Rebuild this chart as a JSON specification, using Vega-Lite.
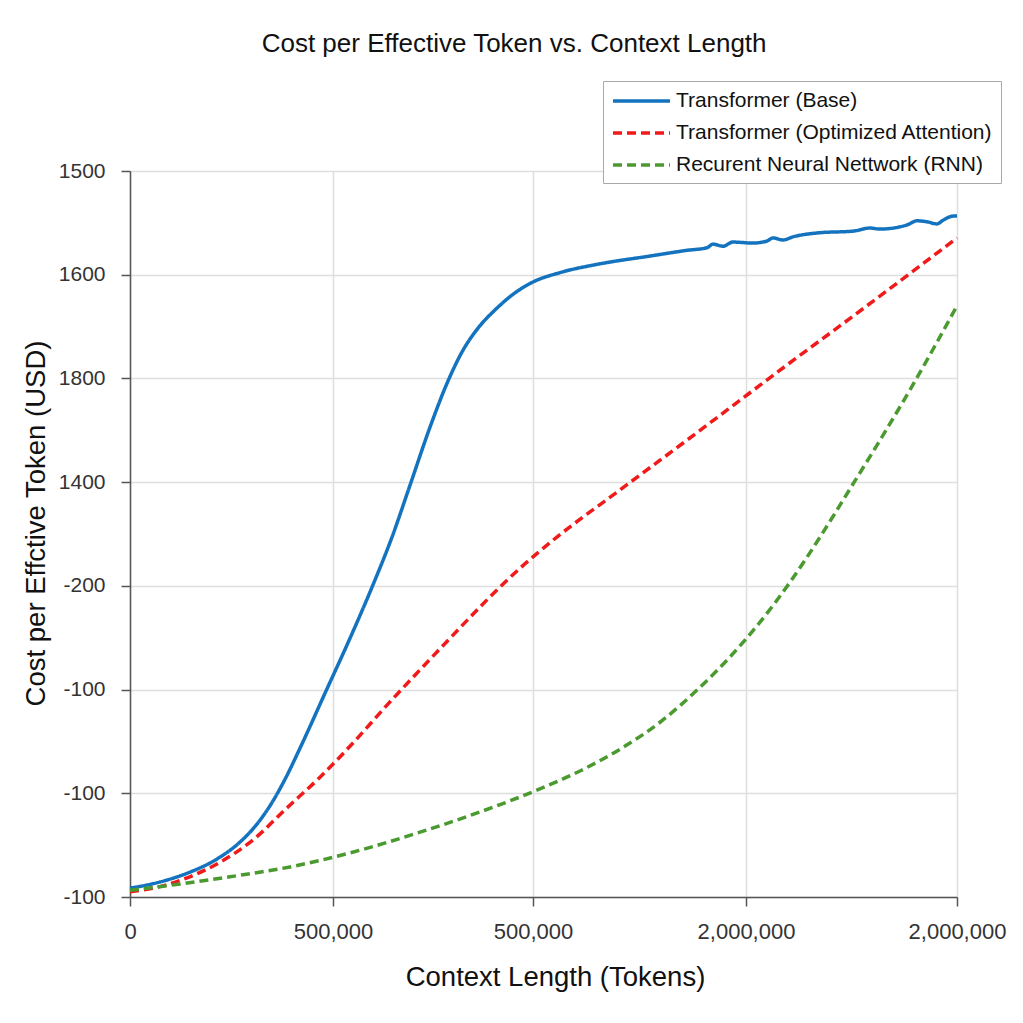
{
  "$schema": "https://vega.github.io/schema/vega-lite/v6.json",
  "width": 827,
  "height": 726,
  "autosize": {"type": "none"},
  "padding": {"left": 130, "top": 171, "right": 66, "bottom": 126},
  "background": "white",
  "config": {
    "font": "Liberation Sans",
    "view": {"stroke": null},
    "axis": {
      "domainColor": "#555555",
      "domainWidth": 1.5,
      "tickColor": "#555555",
      "tickWidth": 1.5,
      "tickSize": 9,
      "gridColor": "#dedede",
      "gridWidth": 1.5,
      "labelFont": "Liberation Sans",
      "labelColor": "#333333",
      "titleFont": "Liberation Sans",
      "titleFontSize": 27.5,
      "titleFontWeight": "normal",
      "titleColor": "#111111"
    }
  },
  "title": {
    "text": "Cost per Effective Token vs. Context Length",
    "font": "Liberation Sans",
    "fontSize": 26,
    "fontWeight": "normal",
    "color": "#111111",
    "anchor": "middle",
    "frame": "bounds",
    "offset": 24
  },
  "data": {
    "values": [
      {"series": "Transformer (Base)", "tokens": 0, "cost": 17},
      {"series": "Transformer (Base)", "tokens": 72550, "cost": 29},
      {"series": "Transformer (Base)", "tokens": 145100, "cost": 48},
      {"series": "Transformer (Base)", "tokens": 205560, "cost": 71},
      {"series": "Transformer (Base)", "tokens": 266020, "cost": 106},
      {"series": "Transformer (Base)", "tokens": 302300, "cost": 136},
      {"series": "Transformer (Base)", "tokens": 338580, "cost": 176},
      {"series": "Transformer (Base)", "tokens": 374850, "cost": 227},
      {"series": "Transformer (Base)", "tokens": 411130, "cost": 287},
      {"series": "Transformer (Base)", "tokens": 471590, "cost": 393},
      {"series": "Transformer (Base)", "tokens": 532040, "cost": 499},
      {"series": "Transformer (Base)", "tokens": 587660, "cost": 602},
      {"series": "Transformer (Base)", "tokens": 633610, "cost": 694},
      {"series": "Transformer (Base)", "tokens": 677140, "cost": 794},
      {"series": "Transformer (Base)", "tokens": 725510, "cost": 906},
      {"series": "Transformer (Base)", "tokens": 769040, "cost": 995},
      {"series": "Transformer (Base)", "tokens": 802900, "cost": 1051},
      {"series": "Transformer (Base)", "tokens": 841600, "cost": 1097},
      {"series": "Transformer (Base)", "tokens": 882700, "cost": 1132},
      {"series": "Transformer (Base)", "tokens": 931100, "cost": 1165},
      {"series": "Transformer (Base)", "tokens": 974600, "cost": 1186},
      {"series": "Transformer (Base)", "tokens": 1039910, "cost": 1204},
      {"series": "Transformer (Base)", "tokens": 1136650, "cost": 1221},
      {"series": "Transformer (Base)", "tokens": 1257570, "cost": 1236},
      {"series": "Transformer (Base)", "tokens": 1347000, "cost": 1247},
      {"series": "Transformer (Base)", "tokens": 1395400, "cost": 1252},
      {"series": "Transformer (Base)", "tokens": 1409900, "cost": 1259},
      {"series": "Transformer (Base)", "tokens": 1434100, "cost": 1255},
      {"series": "Transformer (Base)", "tokens": 1458300, "cost": 1263},
      {"series": "Transformer (Base)", "tokens": 1506700, "cost": 1261},
      {"series": "Transformer (Base)", "tokens": 1540500, "cost": 1265},
      {"series": "Transformer (Base)", "tokens": 1555000, "cost": 1271},
      {"series": "Transformer (Base)", "tokens": 1579200, "cost": 1267},
      {"series": "Transformer (Base)", "tokens": 1603400, "cost": 1273},
      {"series": "Transformer (Base)", "tokens": 1668700, "cost": 1281},
      {"series": "Transformer (Base)", "tokens": 1748500, "cost": 1284},
      {"series": "Transformer (Base)", "tokens": 1789600, "cost": 1290},
      {"series": "Transformer (Base)", "tokens": 1813800, "cost": 1288},
      {"series": "Transformer (Base)", "tokens": 1879100, "cost": 1296},
      {"series": "Transformer (Base)", "tokens": 1903300, "cost": 1304},
      {"series": "Transformer (Base)", "tokens": 1927500, "cost": 1302},
      {"series": "Transformer (Base)", "tokens": 1951700, "cost": 1298},
      {"series": "Transformer (Base)", "tokens": 1966200, "cost": 1305},
      {"series": "Transformer (Base)", "tokens": 1990400, "cost": 1313},
      {"series": "Transformer (Base)", "tokens": 2000000, "cost": 1313},

      {"series": "Transformer (Optimized Attention)", "tokens": 0, "cost": 10},
      {"series": "Transformer (Optimized Attention)", "tokens": 55620, "cost": 17},
      {"series": "Transformer (Optimized Attention)", "tokens": 137850, "cost": 37},
      {"series": "Transformer (Optimized Attention)", "tokens": 217660, "cost": 67},
      {"series": "Transformer (Optimized Attention)", "tokens": 297460, "cost": 110},
      {"series": "Transformer (Optimized Attention)", "tokens": 379690, "cost": 172},
      {"series": "Transformer (Optimized Attention)", "tokens": 459500, "cost": 231},
      {"series": "Transformer (Optimized Attention)", "tokens": 539300, "cost": 297},
      {"series": "Transformer (Optimized Attention)", "tokens": 621530, "cost": 370},
      {"series": "Transformer (Optimized Attention)", "tokens": 701340, "cost": 438},
      {"series": "Transformer (Optimized Attention)", "tokens": 781140, "cost": 505},
      {"series": "Transformer (Optimized Attention)", "tokens": 863370, "cost": 573},
      {"series": "Transformer (Optimized Attention)", "tokens": 943180, "cost": 634},
      {"series": "Transformer (Optimized Attention)", "tokens": 1022980, "cost": 688},
      {"series": "Transformer (Optimized Attention)", "tokens": 1185010, "cost": 785},
      {"series": "Transformer (Optimized Attention)", "tokens": 1347040, "cost": 881},
      {"series": "Transformer (Optimized Attention)", "tokens": 1492140, "cost": 968},
      {"series": "Transformer (Optimized Attention)", "tokens": 1588880, "cost": 1026},
      {"series": "Transformer (Optimized Attention)", "tokens": 1748500, "cost": 1120},
      {"series": "Transformer (Optimized Attention)", "tokens": 1910530, "cost": 1217},
      {"series": "Transformer (Optimized Attention)", "tokens": 2000000, "cost": 1271},

      {"series": "Recurent Neural Nettwork (RNN)", "tokens": 0, "cost": 13},
      {"series": "Recurent Neural Nettwork (RNN)", "tokens": 120920, "cost": 25},
      {"series": "Recurent Neural Nettwork (RNN)", "tokens": 241840, "cost": 39},
      {"series": "Recurent Neural Nettwork (RNN)", "tokens": 386940, "cost": 58},
      {"series": "Recurent Neural Nettwork (RNN)", "tokens": 532040, "cost": 85},
      {"series": "Recurent Neural Nettwork (RNN)", "tokens": 701340, "cost": 125},
      {"series": "Recurent Neural Nettwork (RNN)", "tokens": 846440, "cost": 164},
      {"series": "Recurent Neural Nettwork (RNN)", "tokens": 974620, "cost": 203},
      {"series": "Recurent Neural Nettwork (RNN)", "tokens": 1088280, "cost": 243},
      {"series": "Recurent Neural Nettwork (RNN)", "tokens": 1185020, "cost": 285},
      {"series": "Recurent Neural Nettwork (RNN)", "tokens": 1281750, "cost": 337},
      {"series": "Recurent Neural Nettwork (RNN)", "tokens": 1371230, "cost": 399},
      {"series": "Recurent Neural Nettwork (RNN)", "tokens": 1451040, "cost": 463},
      {"series": "Recurent Neural Nettwork (RNN)", "tokens": 1523590, "cost": 530},
      {"series": "Recurent Neural Nettwork (RNN)", "tokens": 1596140, "cost": 607},
      {"series": "Recurent Neural Nettwork (RNN)", "tokens": 1668690, "cost": 694},
      {"series": "Recurent Neural Nettwork (RNN)", "tokens": 1741240, "cost": 787},
      {"series": "Recurent Neural Nettwork (RNN)", "tokens": 1813790, "cost": 881},
      {"series": "Recurent Neural Nettwork (RNN)", "tokens": 1886350, "cost": 978},
      {"series": "Recurent Neural Nettwork (RNN)", "tokens": 1946810, "cost": 1063},
      {"series": "Recurent Neural Nettwork (RNN)", "tokens": 2000000, "cost": 1140}
    ]
  },
  "mark": {"type": "line", "interpolate": "monotone", "strokeWidth": 3.5, "strokeCap": "butt"},
  "encoding": {
    "x": {
      "field": "tokens",
      "type": "quantitative",
      "title": "Context Length (Tokens)",
      "scale": {"domain": [0, 2000000], "nice": false, "zero": true},
      "axis": {
        "values": [0, 490940, 974620, 1489730, 2000000],
        "labelExpr": "datum.value < 250000 ? '0' : datum.value < 1250000 ? '500,000' : '2,000,000'",
        "labelFontSize": 22,
        "labelPadding": 15,
        "titlePadding": 21,
        "titleX": 425,
        "labelFlush": false
      }
    },
    "y": {
      "field": "cost",
      "type": "quantitative",
      "title": "Cost per Effctive Token (USD)",
      "scale": {"domain": [0, 1400], "nice": false},
      "axis": {
        "values": [0, 200, 400, 600, 800, 1000, 1200, 1400],
        "labelExpr": "['-100', '-100', '-100', '-200', '1400', '1800', '1600', '1500'][round(datum.value / 200)]",
        "labelFontSize": 21,
        "labelPadding": 16,
        "titlePadding": 8,
        "titleY": 352
      }
    },
    "color": {
      "field": "series",
      "type": "nominal",
      "scale": {
        "domain": ["Transformer (Base)", "Transformer (Optimized Attention)", "Recurent Neural Nettwork (RNN)"],
        "range": ["#1473be", "#f01a1a", "#4a9a30"]
      },
      "legend": {
        "title": null,
        "orient": "none",
        "legendX": 473,
        "legendY": -90,
        "padding": 8,
        "strokeColor": "#aaaaaa",
        "fillColor": "white",
        "symbolType": "M-1,0H4.7",
        "symbolSize": 400,
        "symbolStrokeWidth": 3.5,
        "labelFont": "Liberation Sans",
        "labelFontSize": 21,
        "labelColor": "#111111",
        "labelOffset": 41,
        "rowPadding": 10,
        "labelLimit": 450
      }
    },
    "strokeDash": {
      "field": "series",
      "type": "nominal",
      "scale": {
        "domain": ["Transformer (Base)", "Transformer (Optimized Attention)", "Recurent Neural Nettwork (RNN)"],
        "range": [[1, 0], [9, 5], [9, 5]]
      },
      "legend": null
    }
  }
}
